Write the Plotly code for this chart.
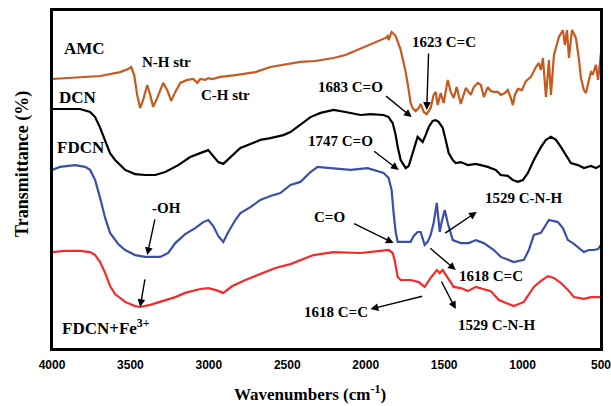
import plotly.graph_objects as go

# ---------------- data (wavenumber cm-1, transmittance % arbitrary offset) ----------------
amc_w = [4000, 3885, 3693, 3566, 3515, 3495, 3476, 3457, 3438, 3419, 3393, 3374, 3355, 3329, 3291, 3265,
         3240, 3214, 3182, 3138, 3099, 3074, 3055, 3023, 3004, 2978, 2927, 2831, 2703, 2608, 2480, 2416,
         2320, 2205, 2129, 2052, 1969, 1905, 1873, 1860, 1854, 1835, 1809, 1777, 1745, 1726, 1714, 1701,
         1682, 1662, 1650, 1630, 1611, 1586, 1567, 1554, 1541, 1522, 1503, 1477, 1458, 1439, 1420, 1394,
         1362, 1330, 1311, 1286, 1266, 1247, 1222, 1203, 1183, 1158, 1139, 1113, 1094, 1075, 1062, 1049,
         1030, 1005, 979, 947, 915, 896, 883, 870, 851, 832, 819, 800, 781, 768, 743, 730, 717, 704, 685,
         660, 640, 628, 609, 596, 577, 564, 551, 532, 519, 506, 500]
amc_t = [90.0, 90.3, 91.0, 92.3, 93.3, 94.0, 91.3, 84.7, 80.3, 83.0, 88.0, 84.7, 80.7, 83.7, 88.7, 86.3,
         82.7, 85.7, 88.7, 89.7, 90.0, 88.7, 90.0, 89.7, 90.3, 90.0, 90.7, 91.3, 92.3, 94.0, 95.3, 95.7,
         96.0, 97.0, 98.0, 99.7, 101.7, 103.0, 103.7, 104.3, 103.0, 105.7, 104.3, 99.7, 92.3, 86.3, 82.0, 80.3,
         79.3, 80.3, 81.7, 79.0, 78.3, 80.3, 84.7, 85.7, 81.3, 85.3, 82.0, 89.7, 85.7, 83.7, 87.3, 81.7,
         87.0, 84.7, 87.3, 88.7, 88.0, 84.0, 87.3, 86.0, 85.7, 85.7, 84.7, 85.3, 86.3, 83.7, 81.3, 84.7,
         86.7, 86.3, 89.3, 90.7, 94.0, 95.3, 93.0, 97.0, 84.0, 96.3, 84.7, 98.0, 101.3, 104.0, 106.3, 101.3,
         106.3, 97.0, 106.3, 103.7, 96.3, 90.3, 86.3, 85.3, 89.7, 92.3, 91.7, 94.7, 89.7, 95.7, 98.7]

dcn_w = [4000, 3821, 3757, 3725, 3693, 3661, 3630, 3598, 3534, 3470, 3406, 3342, 3278, 3195, 3119, 3055,
         3004, 2972, 2940, 2908, 2863, 2799, 2735, 2672, 2608, 2525, 2480, 2416, 2352, 2288, 2205, 2129,
         2033, 1969, 1886, 1854, 1828, 1809, 1796, 1777, 1745, 1726, 1714, 1688, 1669, 1650, 1637, 1618,
         1598, 1573, 1554, 1535, 1509, 1490, 1471, 1445, 1426, 1394, 1349, 1298, 1222, 1171, 1139, 1094,
         1062, 1030, 998, 966, 928, 883, 851, 819, 787, 755, 723, 692, 647, 609, 564, 532, 500]
dcn_t = [80.0, 80.0, 79.0, 77.3, 73.7, 69.7, 65.3, 63.0, 59.7, 58.3, 58.0, 58.0, 59.0, 61.3, 64.0, 65.3,
         66.3, 64.3, 62.3, 61.7, 64.0, 67.0, 68.3, 69.7, 70.3, 71.3, 72.3, 74.7, 77.3, 78.7, 79.7, 79.0,
         78.0, 78.3, 78.0, 77.3, 75.3, 71.3, 67.3, 63.0, 60.3, 61.0, 63.0, 68.0, 70.7, 69.7, 69.0, 71.3,
         74.0, 76.0, 76.3, 75.7, 73.7, 69.7, 65.3, 63.0, 62.0, 62.3, 61.3, 61.7, 60.7, 59.7, 58.0, 57.7,
         56.3, 55.7, 56.3, 58.7, 63.0, 67.3, 69.7, 70.7, 69.7, 67.3, 64.7, 62.0, 61.3, 60.3, 61.0, 60.3, 61.3]

fdcn_w = [4000, 3949, 3853, 3789, 3757, 3725, 3693, 3661, 3630, 3578, 3534, 3470, 3406, 3310, 3259, 3214,
          3151, 3087, 3036, 3004, 2972, 2940, 2908, 2876, 2831, 2799, 2735, 2672, 2608, 2544, 2480, 2416,
          2352, 2307, 2224, 2097, 1988, 1886, 1854, 1835, 1822, 1809, 1796, 1758, 1714, 1694, 1669, 1650,
          1637, 1624, 1605, 1586, 1567, 1547, 1528, 1516, 1496, 1477, 1445, 1394, 1343, 1298, 1247, 1183,
          1139, 1094, 1056, 992, 960, 928, 883, 832, 775, 743, 711, 679, 647, 609, 577, 545, 519, 500]
fdcn_t = [59.7, 60.7, 61.3, 60.7, 59.7, 56.3, 50.3, 43.7, 38.7, 35.0, 33.0, 31.3, 30.7, 30.7, 32.0, 35.3,
          38.3, 40.3, 42.3, 43.0, 41.0, 37.7, 35.7, 39.0, 43.0, 45.3, 47.3, 49.7, 51.0, 52.0, 54.7, 55.7,
          59.0, 60.7, 60.3, 59.7, 60.3, 58.7, 57.0, 53.0, 45.3, 39.0, 35.7, 35.7, 35.7, 37.7, 39.0, 39.0,
          37.0, 34.7, 35.7, 38.0, 42.0, 48.7, 39.0, 42.3, 46.3, 42.0, 36.3, 35.3, 35.3, 36.3, 35.3, 33.0,
          30.7, 29.7, 29.0, 29.7, 33.0, 38.0, 38.7, 43.0, 42.3, 40.3, 36.3, 35.3, 34.0, 32.3, 33.0, 33.0, 33.3, 34.7]

fe_w = [4000, 3917, 3821, 3757, 3725, 3693, 3661, 3630, 3598, 3534, 3470, 3438, 3374, 3278, 3214, 3151,
        3055, 3004, 2959, 2908, 2850, 2767, 2672, 2576, 2480, 2416, 2333, 2205, 2033, 1905, 1854, 1828,
        1816, 1796, 1777, 1714, 1662, 1624, 1586, 1547, 1528, 1509, 1477, 1439, 1394, 1349, 1298, 1266,
        1203, 1151, 1107, 1056, 992, 928, 883, 838, 800, 755, 711, 672, 609, 564, 500]
fe_t = [32.3, 32.7, 32.7, 32.3, 31.3, 29.0, 25.3, 21.0, 18.3, 15.7, 14.3, 14.0, 14.7, 16.3, 17.3, 18.7,
        20.0, 20.3, 19.7, 18.7, 21.0, 23.0, 25.0, 27.0, 28.3, 29.7, 31.3, 32.3, 32.0, 32.7, 33.0, 32.0,
        29.7, 24.0, 23.0, 23.0, 22.3, 20.7, 23.7, 26.3, 25.3, 26.3, 23.7, 20.7, 20.3, 19.3, 20.7, 20.3,
        19.3, 16.3, 15.3, 14.3, 15.7, 20.7, 22.7, 24.3, 23.7, 22.0, 19.7, 17.3, 16.7, 17.3, 17.3]

x_ticks = [4000, 3500, 3000, 2500, 2000, 1500, 1000, 500]

# labels: (text, wavenumber, transmittance, anchor)
curve_labels = [("AMC", 3936, 100.3, "left"), ("DCN", 3968, 84.0, "left"),
                ("FDCN", 3981, 67.3, "left"), ("FDCN+Fe<sup>3+</sup>", 3949, 7.3, "left")]
peak_labels = [("N-H str", 3272, 95.7), ("C-H str", 2895, 84.7), ("1623 C=C", 1503, 102.3),
               ("1683 C=O", 2097, 87.3), ("1747 C=O", 2161, 69.3), ("-OH", 3272, 47.0),
               ("C=O", 2231, 44.0), ("1529 C-N-H", 992, 50.3), ("1618 C=C", 1203, 24.3),
               ("1618 C=C", 2192, 12.3), ("1529 C-N-H", 1164, 8.0)]
# arrows: (tail_w, tail_t, head_w, head_t)
arrows = [(1599, 99.0, 1611, 79.7), (1880, 84.7, 1707, 77.3), (1956, 66.3, 1790, 59.7),
          (3342, 43.7, 3393, 31.3), (3406, 23.7, 3438, 14.0), (2084, 42.0, 1822, 35.3),
          (1503, 38.3, 1292, 45.7), (1598, 34.0, 1426, 26.3), (1630, 17.7, 1969, 13.3),
          (1522, 23.0, 1426, 13.3)]

SERIF = "Liberation Serif, Times New Roman, serif"

fig = go.Figure()
for w, t, c in [(amc_w, amc_t, "#C55A1E"), (dcn_w, dcn_t, "#000000"),
                (fdcn_w, fdcn_t, "#3A4FA8"), (fe_w, fe_t, "#F52A2A")]:
    fig.add_trace(go.Scatter(x=w, y=t, mode="lines", line=dict(color=c, width=2.2),
                             showlegend=False, hoverinfo="skip"))

ann = []
for txt, w, t, anc in curve_labels:
    ann.append(dict(x=w, y=t, xref="x", yref="y", text=txt, showarrow=False, xanchor=anc,
                    yanchor="middle",
                    font=dict(family=SERIF, size=17, color="black", weight="bold")))
for txt, w, t in peak_labels:
    ann.append(dict(x=w, y=t, xref="x", yref="y", text=txt, showarrow=False,
                    xanchor="center", yanchor="middle",
                    font=dict(family=SERIF, size=15, color="black", weight="bold")))
for tw, tt, hw, ht in arrows:
    ann.append(dict(x=hw, y=ht, ax=tw, ay=tt, xref="x", yref="y", axref="x", ayref="y",
                    text="", showarrow=True, arrowhead=2, arrowsize=1.1, arrowwidth=1.4,
                    arrowcolor="black", standoff=0, startstandoff=0))

L, R, T, B = 52, 10, 10, 57
pw, ph = 611 - L - R, 406 - T - B
ann.append(dict(x=(310 - L) / pw, y=(406 - B - 393) / ph, xref="paper", yref="paper",
                xanchor="center", yanchor="middle",
                text="Wavenumbers (cm<sup>-1</sup>)", showarrow=False,
                font=dict(family=SERIF, size=17, color="black", weight="bold")))
ann.append(dict(x=(22 - L) / pw, y=(406 - B - 164) / ph, xref="paper", yref="paper",
                xanchor="center", yanchor="middle",
                text="Transmittance (%)", showarrow=False, textangle=-90,
                font=dict(family=SERIF, size=18, color="black", weight="bold")))

fig.update_layout(
    width=611, height=406, margin=dict(l=L, r=R, t=T, b=B, autoexpand=False),
    paper_bgcolor="white", plot_bgcolor="white",
    annotations=ann,
    shapes=[dict(type="rect", xref="paper", yref="paper", x0=0, x1=1, y0=0, y1=1,
                 line=dict(color="black", width=2), layer="above")],
    xaxis=dict(range=[4000, 500], tickvals=x_ticks, ticktext=[str(v) for v in x_ticks],
               automargin=False, ticklabeloverflow="allow",
               showgrid=False, zeroline=False, showline=True, mirror=True,
               linecolor="black", linewidth=2,
               ticks="outside", ticklen=4, tickcolor="rgba(0,0,0,0)",
               tickfont=dict(family="Liberation Sans, Arial, sans-serif", size=12,
                             color="black", weight="bold")),
    yaxis=dict(range=[0, 113], automargin=False, showgrid=False, zeroline=False,
               showline=True, mirror=True, linecolor="black", linewidth=2,
               showticklabels=False, ticks=""),
)
fig.write_html("out.html", config={"displayModeBar": False},
               post_script="document.body.style.margin='0px';"
                           "document.documentElement.style.overflow='hidden';"
                           "document.body.style.overflow='hidden';")
